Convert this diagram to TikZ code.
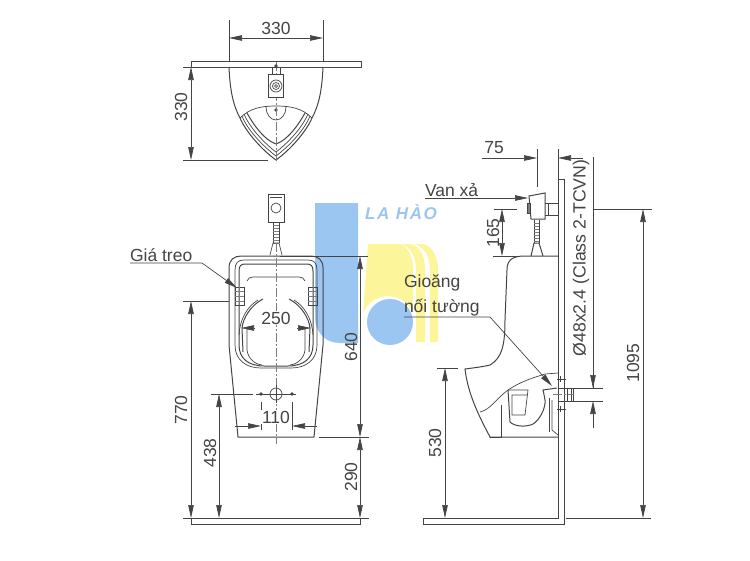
\documentclass[tikz,border=0pt]{standalone}
\usepackage{fontspec}
\setmainfont{Liberation Sans}
\newfontfamily\logofont[LetterSpace=10]{Liberation Sans}
\usetikzlibrary{arrows.meta}
\definecolor{linecol}{HTML}{444444}
\definecolor{logoblue}{HTML}{9CC6F2}
\definecolor{logoyellow}{HTML}{FDF59A}
\begin{document}
\begin{tikzpicture}[x=1pt, y=-1pt, >={Triangle[length=13pt,width=5.5pt]},
    every node/.style={font=\fontsize{17.5}{20}\selectfont, text=linecol, inner sep=0pt, outer sep=0pt},
    body/.style={draw=linecol, line width=0.7pt},
    thick body/.style={draw=linecol, line width=1pt},
    thin body/.style={draw=linecol!70, line width=0.5pt},
    dimline/.style={draw=linecol, line width=0.7pt},
    extline/.style={draw=linecol, line width=0.6pt},
    axis line/.style={draw=linecol!70, line width=0.7pt, dash pattern=on 9pt off 2pt on 2pt off 2pt}]
    \useasboundingbox (0,0) rectangle (750,560);
    % logo
    \fill[logoblue] (315,203) -- (358,203) -- (358,343) -- (340,343) .. controls (325,343) and (315,332) .. (315,317) -- cycle;
    \fill[logoyellow] (368,244) -- (397,244) .. controls (407,244) and (413,255) .. (413,270) -- (413,313) arc[start angle=22, end angle=157, x radius=27, y radius=-27] -- cycle;
    \fill[logoyellow] (400,244) .. controls (410,246) and (416,256) .. (416,270) -- (416,342) -- (425,342) -- (425,270) .. controls (425,256) and (420,246) .. (410,244) -- cycle;
    \fill[logoyellow] (413,244) .. controls (424,246) and (430,256) .. (430,270) -- (430,342) -- (438,342) -- (438,270) .. controls (438,256) and (432,246) .. (423,244) -- cycle;
    \fill[logoblue] (390,322) circle[radius=23];
    \node[font=\logofont\fontsize{17}{20}\selectfont\bfseries\itshape, text=logoblue] (logotext) at (401,212) {LA HÀO};
    % top view
    \draw[body] (191,67) rectangle (361,61);
    \foreach \sx in {1,-1} {
        \begin{scope}[shift={(276,0)}, xscale=\sx]
            \draw[thick body] (-47,67) .. controls (-46,90) and (-43,105) .. (-36,118) .. controls (-30,132) and (-14,150) .. (0,160);
            \draw[body] (-36,118) .. controls (-26,108) and (-14,106) .. (0,106);
            \draw[body] (-34,116) .. controls (-28,131) and (-12,147) .. (0,156);
            \draw[body] (-32,114) .. controls (-26,128) and (-12,143) .. (0,152);
            \draw[thick body] (-29,113) .. controls (-23,124) and (-12,140) .. (0,144);
        \end{scope}
    }
    \draw[body] (266,107) arc[start angle=180, end angle=360, x radius=10, y radius=-13];
    \fill[linecol] (276,110) circle[radius=1.8];
    \draw[axis line] (276,62) -- (276,163);
    \fill[linecol] (276,66) circle[radius=1.8];
    \draw[body] (272,67) rectangle (280,74);
    \draw[thick body, fill=white] (268,74) rectangle (283,97);
    \foreach \rad in {6,3.5,1.5} {
        \draw[body] (276,86) circle[radius=\rad];
    }
    \draw[extline] (229,20) -- (229,61);
    \draw[extline] (323,20) -- (323,61);
    \draw[dimline, <->] (229,38) -- (323,38);
    \node (topwidth) at (276,28) {330};
    \draw[extline] (183,67) -- (222,67);
    \draw[extline] (183,160) -- (268,160);
    \draw[dimline, <->] (191,67) -- (191,160);
    \node[rotate=90] (topdepth) at (181,107) {330};
    % front view
    \draw[thick body] (268,194) rectangle (284,222);
    \draw[body] (276,208) circle[radius=5];
    \draw[body] (270,197) -- (282,197);
    \draw[body] (273,222) -- (273,243) (279,222) -- (279,243);
    \foreach \ty in {225,228,...,243} {
        \draw[thin body] (273,\ty) -- (279,\ty);
    }
    \draw[body] (270,255) -- (273,243) -- (279,243) -- (282,255);
    \foreach \sx in {1,-1} {
        \begin{scope}[shift={(276,0)}, xscale=\sx]
            \draw[thick body] (0,256) -- (-35,256) .. controls (-42,256) and (-47,260) .. (-47,268) -- (-47,345) -- (-38,437) -- (0,437);
            \draw[body] (0,260) -- (-32,260) .. controls (-38,260) and (-41,263) .. (-41,270) -- (-41,345) .. controls (-41,360) and (-30,368) .. (-15,368) -- (0,368);
            \draw[thick body] (0,264) -- (-31,264) .. controls (-35,264) and (-37,266) .. (-37,271) -- (-37,345) .. controls (-37,358) and (-28,366) .. (-12,366) -- (0,366);
            \draw[body] (0,277) -- (-23,277) .. controls (-26,277) and (-28,278) .. (-29,281);
            \draw[thick body] (-13,299) .. controls (-25,305) and (-33,318) .. (-34,328) -- (-33,352);
            \draw[body] (-18,300) .. controls (-28,306) and (-36,318) .. (-37,335);
            \draw[body] (-29,329) -- (-29,350) .. controls (-28,358) and (-22,364) .. (-14,365);
            % bracket
            \draw[body] (-41,287) rectangle (-32,305);
            \foreach \by in {291,296,301} {
                \draw[thin body] (-41,\by) -- (-32,\by);
            }
            \draw[thin body] (-37,287) -- (-37,305);
            \draw[dimline, ->] (-21,328) -- (-35,328);
        \end{scope}
    }
    \draw[axis line] (276,243) -- (276,444);
    \node[fill=white, inner sep=1pt] (innerwidth) at (276,318) {250};
    % drain
    \draw[body] (276,394) circle[radius=6];
    \draw[body] (276,385) -- (276,403);
    \foreach \hx in {261,292} {
        \fill[linecol] (\hx,394) circle[radius=1.8];
    }
    \draw[extline] (211,394) -- (253,394);
    \draw[extline] (256,394) -- (296,394);
    \draw[extline] (261,402) -- (261,430);
    \draw[extline] (292,402) -- (292,430);
    \draw[dimline, ->] (235,426) -- (261,426);
    \draw[dimline, ->] (317,426) -- (292,426);
    \node[fill=white, inner sep=1pt] (drainwidth) at (276,417) {110};
    % floor, front view
    \draw[body] (183,518) -- (369,518);
    \draw[body] (191,518) -- (191,524) -- (360,524) -- (360,518);
    % heights, front view
    \draw[extline] (280,256) -- (368,256);
    \draw[extline] (319,437) -- (369,437);
    \draw[dimline, <->] (360,256) -- (360,437);
    \draw[dimline, <->] (360,437) -- (360,518);
    \node[rotate=90] (bodyheight) at (351,347) {640};
    \node[rotate=90] (floorgap) at (351,477) {290};
    \draw[extline] (183,301) -- (229,301);
    \draw[dimline, <->] (191,301) -- (191,518);
    \node[rotate=90] (hangheight) at (181,410) {770};
    \draw[dimline, <->] (219,394) -- (219,518);
    \node[rotate=90] (drainheight) at (210,453) {438};
    \node[anchor=west] (hanger) at (130,255) {Giá treo};
    \draw[dimline, ->] (130,263) -- (202,263) -- (237,288);
    % side view: wall and floor
    \draw[body] (558,179) -- (564,179) -- (564,524) -- (423,524) -- (423,518) -- (558,518) -- cycle;
    % side view: valve
    \draw[thick body] (529,196) -- (545,193) -- (545,219) -- (531,219) -- cycle;
    \draw[body, fill=linecol!70] (527,203) rectangle (530,213);
    \draw[body] (545,203) -- (558,203) (545,215) -- (558,215) (548,203) -- (548,215);
    \draw[body] (534,220) -- (534,243) (539,220) -- (539,243);
    \foreach \ty in {223,226,...,241} {
        \draw[thin body] (534,\ty) -- (539,\ty);
    }
    \draw[thick body] (531,256) -- (534,243) -- (539,243) -- (543,256);
    % side view: bowl
    \draw[thick body] (558,256) -- (522,256) .. controls (512,257) and (507,260) .. (507,270) -- (505,320) .. controls (505,345) and (502,358) .. (490,365) .. controls (482,367) and (472,368) .. (465,369) .. controls (468,395) and (480,418) .. (490,437) -- (558,437);
    \draw[body] (490,437) -- (501,437) -- (501,405);
    \draw[body] (480,412) .. controls (490,410) and (497,398) .. (508,390) .. controls (520,382) and (532,378) .. (545,374) -- (558,373);
    \draw[thick body] (508,390) -- (510,422) .. controls (515,427) and (527,427) .. (533,424) .. controls (540,420) and (546,407) .. (545,400) .. controls (544,394) and (543,390) .. (543,390) -- (557,388);
    \draw[body] (508,390) -- (528,390) -- (525,415) -- (512,415) -- (512,395) -- (527,395);
    \draw[body] (552,400) -- (552,430) -- (558,435);
    \draw[body] (549,398) -- (549,432);
    % side view: fitting
    \foreach \fy in {379,409} {
        \draw[thick body] (557,\fy) -- (566,\fy);
        \draw[body] (560,\fy-3) -- (560,\fy+3);
    }
    \draw[body] (558,388) rectangle (567,401);
    \draw[body] (567,388) -- (573,388) -- (573,401) -- (567,401);
    \draw[body] (571,388) -- (571,401);
    \draw[axis line] (553,394) -- (574,394);
    % side view: dimensions
    \draw[extline] (537,149) -- (537,187);
    \draw[extline] (558,149) -- (558,179);
    \draw[dimline, ->] (482,158) -- (537,158);
    \draw[dimline, ->] (583,158) -- (558,158);
    \node (valvedepth) at (494,148) {75};
    \draw[extline] (494,209) -- (517,209);
    \draw[extline] (493,256) -- (520,256);
    \draw[dimline, <->] (502,209) -- (502,256);
    \node[rotate=90] (valveheight) at (493,233) {165};
    \draw[extline] (593,157) -- (593,388);
    \draw[extline] (573,388) -- (603,388);
    \draw[extline] (573,401) -- (603,401);
    \draw[dimline, ->] (593,360) -- (593,388);
    \draw[dimline, ->] (593,428) -- (593,401);
    \node[rotate=90, font=\fontsize{17.7}{20}\selectfont] (pipesize) at (581,258) {Ø48x2.4 (Class 2-TCVN)};
    \draw[extline] (593,209) -- (652,209);
    \draw[extline] (566,518) -- (651,518);
    \draw[dimline, <->] (643,209) -- (643,518);
    \node[rotate=90] (totalheight) at (633,363) {1095};
    \draw[extline] (437,368) -- (458,368);
    \draw[dimline, <->] (445,368) -- (445,518);
    \node[rotate=90] (bowlheight) at (435,443) {530};
    % side view: leaders
    \node[anchor=west] (valvelabel) at (425,190) {Van xả};
    \draw[dimline, ->] (425,198) -- (528,198);
    \node[anchor=west] (gasketa) at (404,283) {Gioăng};
    \node[anchor=west] (gasketb) at (404,308) {nối tường};
    \draw[dimline, ->] (404,317) -- (490,317) -- (552,386);
\end{tikzpicture}
\end{document}
